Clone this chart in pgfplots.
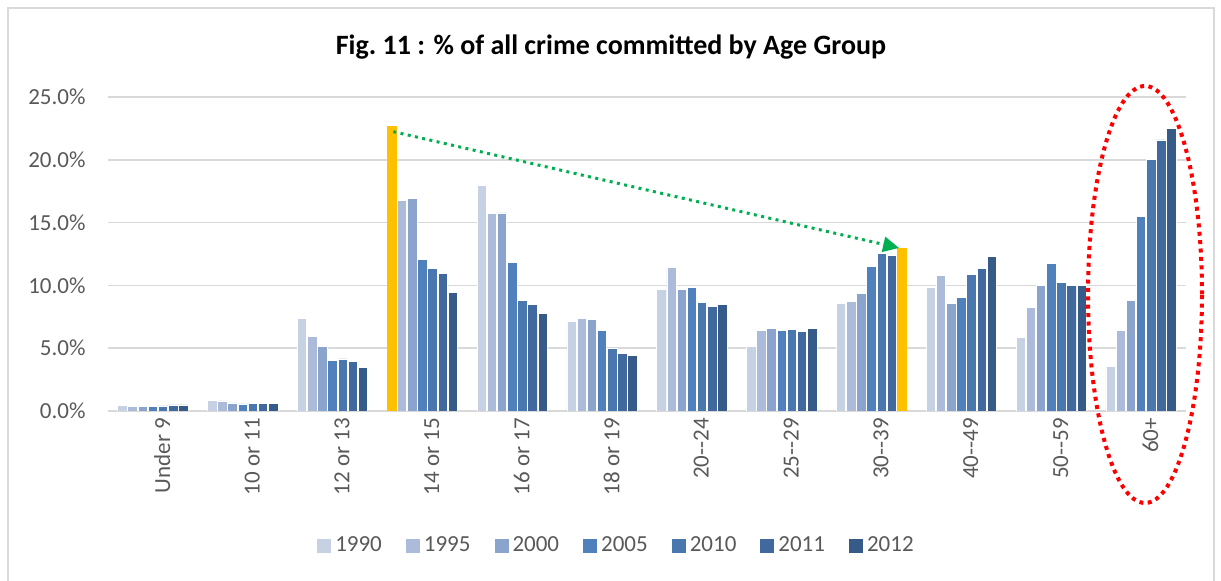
\documentclass[border=0pt]{standalone}
\usepackage{pgfplots}
\pgfplotsset{compat=1.18}
\usepackage{fontspec}
\setmainfont{Carlito}
\usetikzlibrary{arrows.meta}
\definecolor{cA}{HTML}{C6D1E4}
\definecolor{cB}{HTML}{ACBBD9}
\definecolor{cC}{HTML}{8AA4CD}
\definecolor{cD}{HTML}{5181BD}
\definecolor{cE}{HTML}{4A77AD}
\definecolor{cF}{HTML}{41699E}
\definecolor{cG}{HTML}{375B88}
\definecolor{txt}{HTML}{595959}
\definecolor{grd}{HTML}{D9D9D9}
\definecolor{orng}{HTML}{FFC000}
\definecolor{grn}{HTML}{00B050}
\begin{document}
\begin{tikzpicture}
\useasboundingbox (-54pt,-85pt) rectangle (556.5pt,205.5pt);
\draw[grd, line width=0.8pt] (-50pt,-90pt) -- (-50pt,201.5pt) -- (553pt,201.5pt) -- (553pt,-90pt);
\node[font=\fontsize{14}{17}\selectfont\bfseries, text=black] at (251.5pt,182pt) {Fig.\ 11 : \% of all crime committed by Age Group};
\begin{axis}[
  at={(0pt,0pt)}, anchor=south west,
  scale only axis, width=539pt, height=157pt,
  xmin=-0.5, xmax=11.5, ymin=0, ymax=25,
  ytick={0,5,10,15,20,25},
  xtick={0,...,11},
  xticklabels={Under 9,10 or 11,12 or 13,14 or 15,16 or 17,18 or 19,20{-}{-}24,25{-}{-}29,30{-}{-}39,40{-}{-}49,50{-}{-}59,60+},
  yticklabel={\pgfmathprintnumber[fixed,fixed zerofill,precision=1,assume math mode=true]{\tick}\%},
  major tick length=0pt,
  axis line style={draw=none},
  ymajorgrids, grid style={grd, line width=0.75pt},
  tick label style={font=\fontsize{11.5}{13}\selectfont, text=txt},
  yticklabel style={anchor=east, xshift=-7.7pt},
  xticklabel style={rotate=90, anchor=east, yshift=-4.7pt},
  ybar, bar width=0.105,
  every axis plot/.append style={draw=white, line width=0.4pt},
  legend columns=7,
  legend style={at={(0.4726,-0.43)}, anchor=center, draw=none, fill=none,
    font=\fontsize{11.5}{13}\selectfont, text=txt,
    /tikz/every even column/.append style={column sep=10pt}},
  legend image code/.code={\fill[#1, draw=none] (0pt,-3.5pt) rectangle (7pt,3.5pt);},
]
\addplot[fill=cA, bar shift=-0.339] coordinates {(0,0.42) (1,0.87) (2,7.34) (4,17.95) (5,7.16) (6,9.68) (7,5.14) (8,8.59) (9,9.81) (10,5.89) (11,3.58)};
\addlegendentry{1990}
\addplot[fill=cB, bar shift=-0.226] coordinates {(0,0.37) (1,0.80) (2,5.94) (3,16.78) (4,15.72) (5,7.34) (6,11.43) (7,6.44) (8,8.75) (9,10.82) (10,8.27) (11,6.39)};
\addlegendentry{1995}
\addplot[fill=cC, bar shift=-0.113] coordinates {(0,0.34) (1,0.64) (2,5.14) (3,16.94) (4,15.77) (5,7.29) (6,9.70) (7,6.57) (8,9.33) (9,8.56) (10,10.02) (11,8.78)};
\addlegendentry{2000}
\addplot[fill=cD, bar shift=0] coordinates {(0,0.37) (1,0.56) (2,4.03) (3,12.09) (4,11.80) (5,6.44) (6,9.86) (7,6.42) (8,11.51) (9,9.04) (10,11.72) (11,15.46)};
\addlegendentry{2005}
\addplot[fill=cE, bar shift=0.113] coordinates {(0,0.40) (1,0.58) (2,4.14) (3,11.37) (4,8.83) (5,4.96) (6,8.62) (7,6.50) (8,12.51) (9,10.90) (10,10.26) (11,20.04)};
\addlegendentry{2010}
\addplot[fill=cF, bar shift=0.226] coordinates {(0,0.48) (1,0.61) (2,3.98) (3,10.98) (4,8.48) (5,4.59) (6,8.35) (7,6.34) (8,12.41) (9,11.32) (10,9.97) (11,21.58)};
\addlegendentry{2011}
\addplot[fill=cG, bar shift=0.339] coordinates {(0,0.48) (1,0.58) (2,3.50) (3,9.46) (4,7.77) (5,4.43) (6,8.46) (7,6.57) (9,12.33) (10,9.97) (11,22.51)};
\addlegendentry{2012}
\addplot[fill=orng, draw=none, bar shift=-0.339, forget plot] coordinates {(3,22.67)};
\addplot[fill=orng, draw=none, bar shift=0.339, forget plot] coordinates {(8,12.94)};
\draw[grn, line width=1.5pt, dash pattern=on 1.5pt off 2.2pt, -{Triangle[length=8pt,width=7.5pt]}] (axis cs:2.676,22.24) -- (axis cs:8.306,12.98);
\end{axis}
\draw[red, line width=2pt, dash pattern=on 2pt off 2.2pt] (518.5pt,58.25pt) ellipse [x radius=28.5pt, y radius=104.25pt];
\end{tikzpicture}
\end{document}
